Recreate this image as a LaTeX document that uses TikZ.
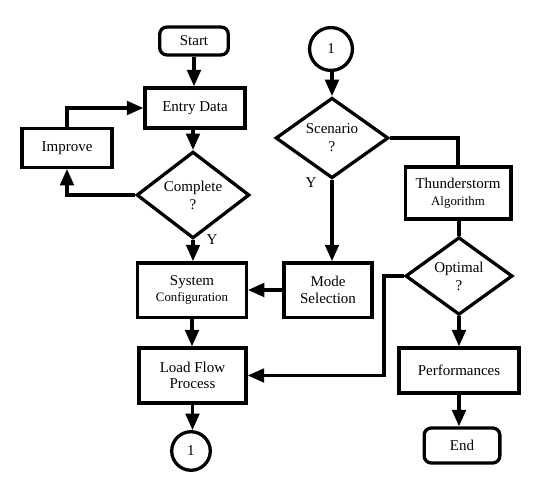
\documentclass[tikz,border=0pt]{standalone}
\usepackage{fontspec}
\setmainfont{Liberation Serif}
\usetikzlibrary{shapes.geometric,arrows.meta}
\begin{document}
\begin{tikzpicture}[x=0.7pt, y=-0.7pt, >={Triangle[length=11.5pt,width=9.5pt]}, line width=2.3pt]
      \tikzstyle{blk}=[draw, rectangle, align=center, inner sep=1pt, font=\fontsize{10.5}{11.5}\selectfont]
      \tikzstyle{term}=[blk, rounded corners=5pt]
      \tikzstyle{dec}=[draw, diamond, align=center, inner sep=0pt, font=\fontsize{10.5}{12.5}\selectfont]
      \tikzstyle{conn}=[draw, circle, inner sep=0pt, font=\fontsize{10.5}{11}\selectfont]
      \useasboundingbox (0,0) rectangle (544,493);
      % left column
      \node[term, minimum width=48pt, minimum height=19.5pt] (start) at (194,41) {Start};
      \node[blk, minimum width=70pt, minimum height=28pt] (entry) at (195,108) {Entry Data};
      \node[blk, minimum width=63pt, minimum height=27pt] (improve) at (67,148) {Improve};
      \node[dec, minimum width=79pt, minimum height=52.5pt] (complete) at (193,195) {Complete\\?};
      \node[blk, minimum width=76pt, minimum height=38pt] (sysconf) at (192,290) {System\\{\small Configuration}};
      \node[blk, minimum width=75pt, minimum height=38.5pt] (loadflow) at (192.5,375.5) {Load Flow\\Process};
      \node[conn, minimum size=27pt] (out1) at (191,451) {1};
      % right column
      \node[conn, minimum size=30pt] (in1) at (331,49) {1};
      \node[dec, minimum width=79pt, minimum height=56pt] (scenario) at (332,138) {Scenario\\?};
      \node[blk, minimum width=74pt, minimum height=36.5pt] (thunder) at (458,193) {Thunderstorm\\{\small Algorithm}};
      \node[blk, minimum width=61.5pt, minimum height=38pt] (mode) at (328,290) {Mode\\Selection};
      \node[dec, minimum width=75pt, minimum height=47.5pt] (optimal) at (459,276) {Optimal\\?};
      \node[blk, minimum width=84pt, minimum height=31.5pt] (perf) at (459,370.5) {Performances};
      \node[term, minimum width=53pt, minimum height=24.5pt] (finish) at (462,445.5) {End};
      \coordinate (jog) at (384,300);
      % connectors
      \draw[->] (start.south) -- (start.south |- entry.north);
      \draw[->] (entry.south) -- (entry.south -| complete.north) -- (complete.north);
      \draw[->] (complete.west) -| (improve.south);
      \draw[->] (improve.north) |- (entry.west);
      \draw[->] (complete.south) -- (complete.south |- sysconf.north);
      \draw[->] (sysconf.south) -- (sysconf.south |- loadflow.north);
      \draw[->] (loadflow.south) -- (loadflow.south |- out1.north);
      \draw[->] (in1.south) -- (in1.south -| scenario.north) -- (scenario.north);
      \draw[->] (scenario.south) -- (scenario.south |- mode.north);
      \draw (scenario.east) -| (thunder.north);
      \draw (thunder.south) -- (thunder.south -| optimal.north) -- (optimal.north);
      \draw[->] (mode.west) -- (sysconf.east);
      \draw[->] (optimal.west) -| (jog |- loadflow.east) -- (loadflow.east);
      \draw[->] (optimal.south) -- (optimal.south |- perf.north);
      \draw[->] (perf.south) -- (perf.south |- finish.north);
      \node[font=\fontsize{10.5}{11}\selectfont] at (212,240) {Y};
      \node[font=\fontsize{10.5}{11}\selectfont] at (311,183) {Y};
    \end{tikzpicture}
\end{document}
